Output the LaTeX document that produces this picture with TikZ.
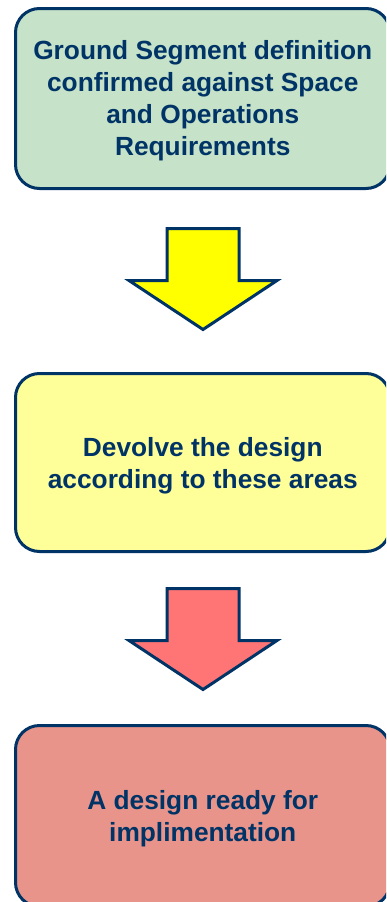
\documentclass[tikz,border=0pt]{standalone}
\usepackage{fontspec}
\setmainfont{Liberation Sans}
\definecolor{navy}{HTML}{003366}
\definecolor{boxgreen}{HTML}{C6E2C8}
\definecolor{boxyellow}{HTML}{FFFF99}
\definecolor{boxred}{HTML}{E8948A}
\definecolor{arrowyellow}{HTML}{FFFF00}
\definecolor{arrowred}{HTML}{FF7575}
\begin{document}
\begin{tikzpicture}[x=1pt,y=-1pt,
  stage/.style={draw=navy, line width=3pt, rounded corners=24pt,
    minimum width=374.5pt, inner sep=0pt},
  stagetext/.style={align=center, text=navy, inner sep=0pt,
    font=\bfseries\fontsize{26.3}{32}\selectfont},
  arrowline/.style={draw=navy, line width=3pt, line join=miter},
  pics/downarrow/.style={code={
    \draw[arrowline, fill=#1] (-36,0) -- (36,0) -- (36,52) -- (74,52)
      -- (0,101) -- (-74,52) -- (-36,52) -- cycle;}}]
\useasboundingbox (0,0) rectangle (386,902);
\clip (0,0) rectangle (386,902);
\node[stage, fill=boxgreen, minimum height=180pt] (s1) at (202.75,98.5) {};
\node[stagetext] (t1) at ([yshift=-2.5pt]s1.center)
  {Ground Segment definition\\confirmed against Space\\and Operations\\Requirements};
\node[stage, fill=boxyellow, minimum height=178pt] (s2) at (202.75,462.5) {};
\node[stagetext] (t2) at ([yshift=-3.5pt]s2.center)
  {Devolve the design\\according to these areas};
\node[stage, fill=boxred, minimum height=181pt] (s3) at (202.75,816) {};
\node[stagetext] (t3) at ([yshift=-3pt]s3.center)
  {A design ready for\\implimentation};
\pic at (203,228.5) {downarrow=arrowyellow};
\pic at (203,588.5) {downarrow=arrowred};
\end{tikzpicture}
\end{document}
